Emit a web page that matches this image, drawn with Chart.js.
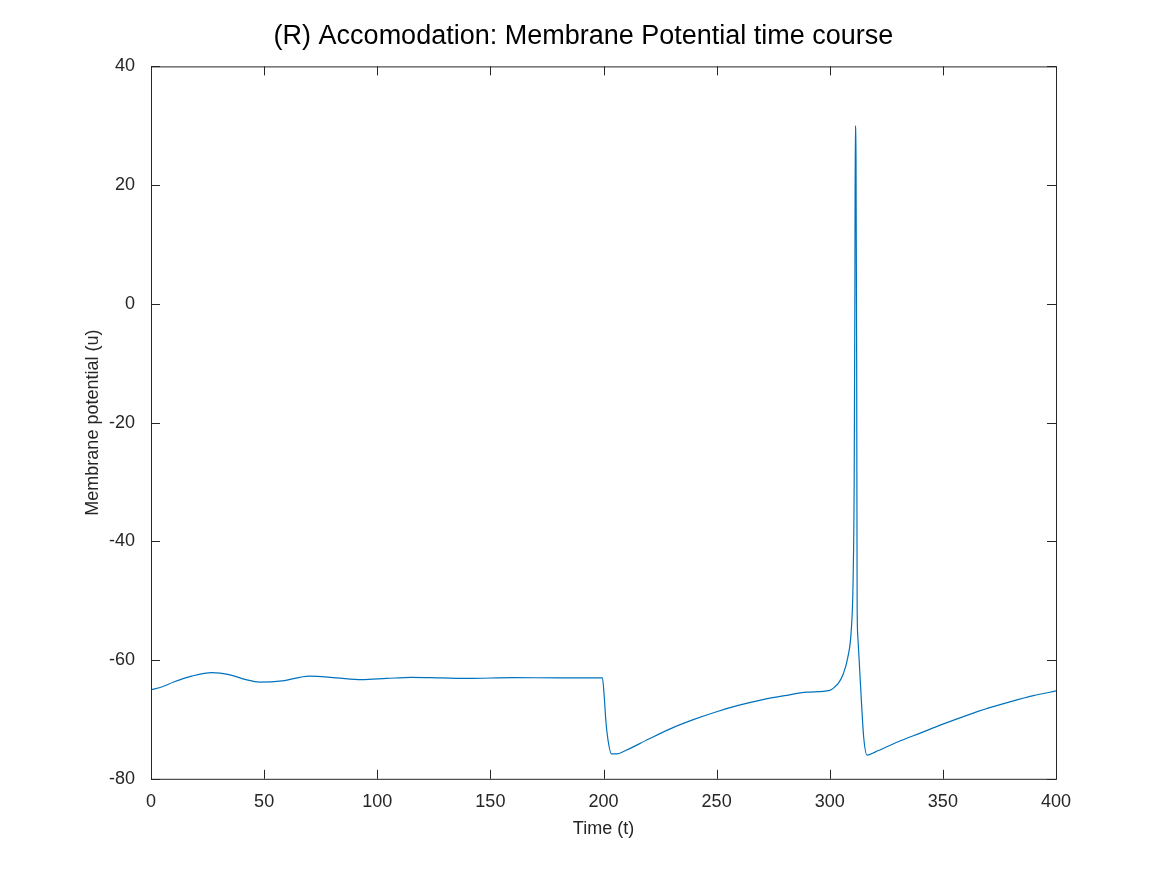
<!DOCTYPE html>
<html>
<head>
<meta charset="utf-8">
<script src="https://cdn.jsdelivr.net/npm/chart.js@4"></script>
<style>
html,body{margin:0;padding:0;background:#fff;}
#wrap{width:1167px;height:875px;}
</style>
</head>
<body>
<div id="wrap"><canvas id="c"></canvas></div>
<script>
// time course
const timeT = [0, 5, 10, 18, 27, 35, 42, 48, 58, 70, 82, 93, 104, 115, 128, 140, 160, 180, 199.5,
  200.3, 201, 202, 203.5, 206, 210, 220, 230, 240, 250, 260, 270, 280, 290, 300,
  302, 304, 306, 308, 309.5, 310.3, 310.8, 311.1, 311.3, 311.6, 311.9, 312.1, 312.4,
  313, 314, 315, 316.5, 320, 330, 340, 350, 360, 370, 380, 390, 400];
const potentialU = [-65, -64.5, -63.7, -62.7, -62.1, -62.5, -63.3, -63.7, -63.5, -62.7, -63.0, -63.3, -63.1, -62.9, -63.0, -63.1, -62.95, -63.0, -63.0,
  -66, -70, -73.5, -75.8, -75.8, -75.2, -73.3, -71.5, -70.0, -68.7, -67.6, -66.7, -66.0, -65.4, -65.1,
  -64.6, -63.8, -62.3, -59.5, -55, -47, -30, 0, 30, 25, -10, -50, -56,
  -60, -67, -73, -76, -75.5, -73.8, -72.3, -70.8, -69.4, -68.1, -67.0, -66.0, -65.2];
const xTicks = [0, 50, 100, 150, 200, 250, 300, 350, 400];
const yTicks = [-80, -60, -40, -20, 0, 20, 40];

const pts = timeT.map((t, i) => ({x: t, y: potentialU[i]}));
const font = {family: 'Liberation Sans, Helvetica, Arial, sans-serif', size: 18};

const inwardTicks = {
  id: 'inwardTicks',
  afterDraw(chart) {
    const {ctx, chartArea: a, scales: {x, y}} = chart;
    ctx.save();
    ctx.strokeStyle = '#262626';
    ctx.lineWidth = 1;
    ctx.strokeRect(a.left + 0.5, a.top + 0.5, a.right - a.left, a.bottom - a.top);
    ctx.beginPath();
    xTicks.forEach(v => {
      const px = Math.round(x.getPixelForValue(v)) + 0.5;
      ctx.moveTo(px, a.bottom); ctx.lineTo(px, a.bottom - 9);
      ctx.moveTo(px, a.top); ctx.lineTo(px, a.top + 9);
    });
    yTicks.forEach(v => {
      const py = Math.round(y.getPixelForValue(v)) + 0.5;
      ctx.moveTo(a.left, py); ctx.lineTo(a.left + 9, py);
      ctx.moveTo(a.right, py); ctx.lineTo(a.right - 9, py);
    });
    ctx.stroke();
    ctx.restore();
  }
};

new Chart(document.getElementById('c'), {
  type: 'scatter',
  data: {
    datasets: [{
      data: pts,
      showLine: true,
      borderColor: '#0072BD',
      borderWidth: 1.2,
      pointRadius: 0,
      cubicInterpolationMode: 'monotone'
    }]
  },
  options: {
    responsive: true,
    maintainAspectRatio: false,
    animation: false,
    layout: {padding: 0},
    plugins: {
      legend: {display: false},
      tooltip: {enabled: false},
      title: {
        display: true,
        text: '(R) Accomodation: Membrane Potential time course',
        color: '#000',
        font: {family: font.family, size: 27, weight: 'normal'},
        padding: {top: 20, bottom: 14}
      }
    },
    scales: {
      x: {
        type: 'linear', min: 0, max: 400,
        afterBuildTicks: s => { s.ticks = xTicks.map(v => ({value: v})); },
        grid: {display: false},
        border: {display: false},
        ticks: {color: '#262626', font: font, padding: 4},
        title: {display: true, text: 'Time (t)', color: '#262626', font: font, padding: {top: 2, bottom: 35}}
      },
      y: {
        type: 'linear', min: -80, max: 40,
        afterBuildTicks: s => { s.ticks = yTicks.map(v => ({value: v})); },
        afterFit: s => { s.width = 151; },
        grid: {display: false},
        border: {display: false},
        ticks: {color: '#262626', font: font, padding: 8},
        title: {display: true, text: 'Membrane potential (u)', color: '#262626', font: font, padding: {top: 82, bottom: 0}}
      },
      yRight: {
        position: 'right',
        display: true,
        afterFit: s => { s.width = 111; },
        grid: {display: false},
        border: {display: false},
        ticks: {display: false}
      }
    }
  },
  plugins: [inwardTicks]
});
</script>
</body>
</html>
